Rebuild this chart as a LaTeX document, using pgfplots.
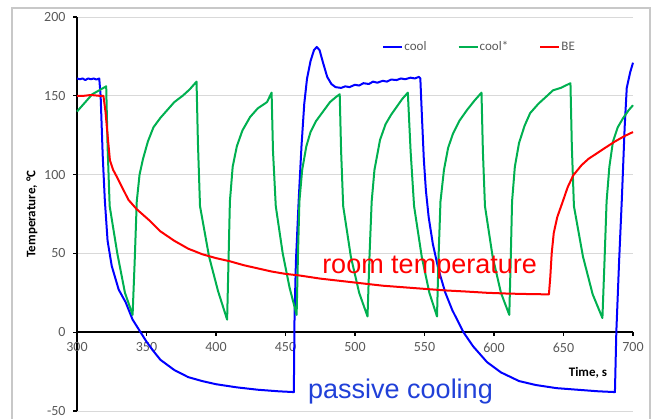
\documentclass[border=0pt]{standalone}
\usepackage{pgfplots}
\pgfplotsset{compat=1.18}
\usepackage{fontspec}
\setmainfont{Carlito}
\newfontfamily\annotfont{Liberation Sans}
\definecolor{coolblue}{HTML}{0000FF}
\definecolor{coolgreen}{HTML}{00B050}
\definecolor{bered}{HTML}{FF0000}
\definecolor{ticktext}{HTML}{595959}
\definecolor{gridgray}{HTML}{D9D9D9}
\definecolor{framegray}{HTML}{C8C8C8}
\definecolor{noteblue}{HTML}{2040D8}

\begin{document}
\begin{tikzpicture}
\useasboundingbox (-77bp,-8bp) rectangle (577bp,411bp);
% chart frame
\draw[framegray, line width=1.5bp] (-65bp,-40bp) -- (-65bp,403bp) -- (573bp,403bp) -- (573bp,-40bp);
\begin{axis}[
  scale only axis, width=556bp, height=394bp,
  xmin=300, xmax=700, ymin=-50, ymax=200,
  clip=false,
  axis x line=middle, axis y line=left,
  axis line style={-, black, line width=1.4bp},
  hide obscured x ticks=false, hide obscured y ticks=false,
  xtick={300,350,...,700}, ytick={-50,0,...,200},
  ymajorgrids, grid style={gridgray, line width=0.9bp},
  tick align=center, major tick length=0pt,
  /pgf/number format/assume math mode=true,
  ticklabel style={font=\fontsize{14bp}{16bp}\selectfont, text=ticktext},
  xticklabel style={yshift=-7bp},
  yticklabel style={xshift=-8bp},
  xlabel={Time, s},
  xlabel style={at={(axis description cs:0.919,0.0964)}, anchor=center,
    font=\fontsize{13bp}{15bp}\selectfont\bfseries},
  ylabel={Temperature, °C},
  ylabel style={at={(axis description cs:-0.081,0.5)}, anchor=center,
    font=\fontsize{13bp}{15bp}\selectfont\bfseries},
  legend columns=3,
  legend style={draw=none, fill=none, inner sep=0pt,
    at={(0.5486,0.9239)}, anchor=west,
    font=\fontsize{13bp}{15bp}\selectfont, text=ticktext,
    nodes={inner sep=1bp},
    /tikz/every even column/.append style={column sep=30bp}},
  legend image code/.code={\draw[#1, line width=2.2bp] (0bp,0bp) -- (19bp,0bp);},
  every axis plot/.append style={line width=2bp, line join=round, no marks},
]

% tick marks on the axis lines
\pgfplotsinvokeforeach{300,350,...,700}{
  \draw[black, line width=1.2bp] (axis cs:#1,0) -- ++(0bp,-4bp);
}
\pgfplotsinvokeforeach{-50,0,...,200}{
  \draw[black, line width=1.2bp] (axis cs:300,#1) -- ++(-4bp,0bp);
}

% cool
\addplot[coolblue] coordinates {
(300,161) (302,160.5) (304,161) (306,160) (308,161) (310,160.5) (312,161)
(314,160.3) (316,161) (317,150) (318.5,112)
(320,84) (322,58) (325,42) (330,27) (335,19) (340,8) (345,1) (350,-6)
(355,-12) (360,-17.5) (370,-24) (380,-28.5) (390,-31) (400,-33) (415,-35)
(430,-36.5) (445,-37.5) (456,-38) (456.5,10) (457.5,45) (459.5,84)
(461.5,118) (463.5,145) (465.5,161) (468,172) (470.5,179) (472.5,181)
(474.5,179) (477,171) (480,162) (483,157.5) (486,155.5) (490,155)
(493,156) (496,155.5) (500,157) (503,156.5) (506,158) (510,157.5)
(513,159) (516,158.3) (520,159.5) (523,159) (526,160.3) (530,160)
(533,161) (536,160.5) (540,161.5) (543,161) (546,162) (547,161) (548,140)
(549.5,110) (551,90) (553,73) (556,56) (560,40) (565,25) (570,14) (578,0)
(585,-9) (595,-19) (605,-25.5) (618,-31) (630,-33.5) (645,-35.5) (660,-36.5)
(675,-37.5) (687,-38) (688,0) (690,45) (692,85) (694,130) (695.5,155)
(698,165) (700,171)
};
\addlegendentry{cool}

% cool*
\addplot[coolgreen] coordinates {
(300,140) (303,143) (307,147) (311,151) (315,153) (319,155) (321,156)
(322,118) (323.5,80) (329,50) (334.5,25) (340,11)
(341.5,45) (343,83) (345,100) (347.5,110) (351,121) (355,130) (360,136)
(365,141) (370,146) (376,150) (381,154) (386,159)
(387,120) (388.5,80) (395,48) (401.5,26) (408,8)
(409,45) (410,83) (412,105) (415,118) (419,128) (424.5,136.5) (430,142)
(436.7,146) (440,152)
(441,115) (443,80) (448,50) (453,28) (458,11)
(459,50) (460,83) (462,103) (465,118) (468,127) (472,134) (477,140)
(482,146) (486,149) (489,151)
(490,115) (491.5,80) (497,48) (503,25) (509,10)
(510.5,50) (512,83) (514,103) (518,122) (522,132) (526,138) (530,143)
(534,148) (538,152)
(540,115) (542.5,80) (548,48) (553.5,25) (559,10)
(560,45) (561.5,83) (564,103) (567,117) (570.5,126) (575,134) (580.6,141)
(586,147) (591,152)
(592,115) (593.5,80) (599,48) (605,25) (611,11)
(612,45) (613,83) (615,105) (618,120) (622,131) (626,139) (632,145)
(637,149) (642.5,153.5) (648,155) (655,158)
(656,118) (657.5,80) (664,48) (671,24) (678,9)
(679.5,45) (681,83) (683,105) (685.6,121) (689,130) (693,136) (697,141)
(700,144)
};
\addlegendentry{cool*}

% BE
\addplot[bered] coordinates {
(300,150) (305,150) (310,150.5) (316,150) (319,150) (320.5,140) (322,125)
(323.7,109) (326,103) (329,98) (333,91) (337,84) (343,78) (352,71)
(360,64) (370,58) (380,53) (390,49.5) (400,47) (410,45) (420,42.5)
(430,40.5) (440,38.5) (450,37) (460,36) (475,34) (490,32.5) (505,31)
(520,29.5) (535,28.5) (550,27.5) (565,26.5) (580,25.8) (595,25) (610,24.5)
(625,24.2) (639.5,24) (640.5,35) (641.5,50) (643,63) (645.5,73) (649.5,83)
(653,92) (657,99.5) (663,106) (668,110) (674,113.5) (680,117) (687,121)
(694,124.5) (700,127)
};
\addlegendentry{BE}

\node[anchor=base west, inner sep=0pt, text=bered,
  font=\annotfont\fontsize{27bp}{30bp}\selectfont] at (axis cs:476.3,37.4) {room temperature};
\node[anchor=base west, inner sep=0pt, text=noteblue,
  font=\annotfont\fontsize{27bp}{30bp}\selectfont] at (axis cs:466.2,-41.9) {passive cooling};
\end{axis}
\end{tikzpicture}
\end{document}
